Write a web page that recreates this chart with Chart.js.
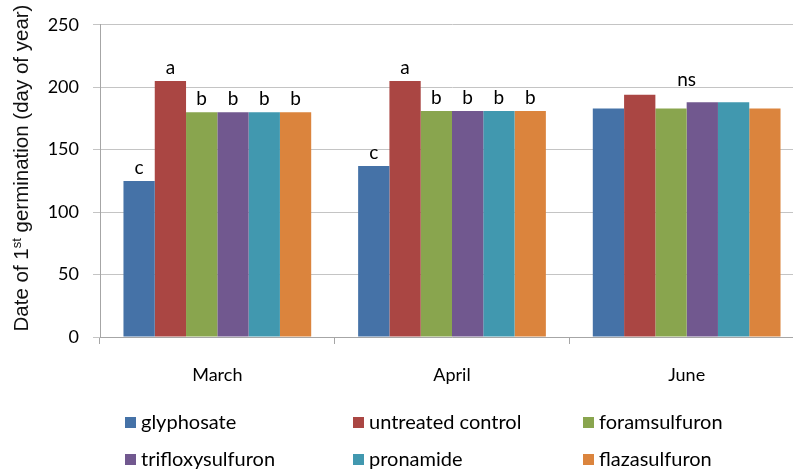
<!DOCTYPE html>
<html>
<head>
<meta charset="utf-8">
<script src="https://cdn.jsdelivr.net/npm/chart.js@4.4.1/dist/chart.umd.min.js"></script>
<style>
  html, body { margin: 0; padding: 0; background: #fff; overflow: hidden; }
  #wrap { width: 793px; height: 474px; overflow: hidden; position: relative; }
  #chart { display: block; }
</style>
</head>
<body>
<div id="wrap"><canvas id="chart" width="804" height="474"></canvas></div>
<script>
/* ====== DATA ====== */
const months = ['March', 'April', 'June'];
const treatments = ['glyphosate', 'untreated control', 'foramsulfuron', 'trifloxysulfuron', 'pronamide', 'flazasulfuron'];

const glyphosate = [125, 137, 183];
const untreated = [205, 205, 194];
const foramsulfuron = [180, 181, 183];
const trifloxysulfuron = [180, 181, 188];
const pronamide = [180, 181, 188];
const flazasulfuron = [180, 181, 183];

// significance letters per month, one per treatment (June is one group label)
const lettersMarch = ['c', 'a', 'b', 'b', 'b', 'b'];
const lettersApril = ['c', 'a', 'b', 'b', 'b', 'b'];
const groupLabelJune = 'ns';

const yTicks = [0, 50, 100, 150, 200, 250];

const colors = ['#4572A7', '#AA4643', '#89A54E', '#71588F', '#4198AF', '#DB843D'];

/* ====== PLUGINS ====== */
const tickFont = 'Lato, "Open Sans", sans-serif';

const letterPlugin = {
  id: 'letters',
  afterDatasetsDraw(chart) {
    const ctx = chart.ctx;
    ctx.save();
    ctx.fillStyle = '#000';
    ctx.font = '19px ' + tickFont;
    ctx.textAlign = 'center';
    ctx.textBaseline = 'bottom';
    const perMonth = [lettersMarch, lettersApril];
    chart.data.datasets.forEach((ds, i) => {
      const meta = chart.getDatasetMeta(i);
      perMonth.forEach((letters, m) => {
        const bar = meta.data[m];
        ctx.fillText(letters[i], bar.x, bar.y - 4);
      });
    });
    // June: single label over the group
    const first = chart.getDatasetMeta(0).data[2];
    const last = chart.getDatasetMeta(chart.data.datasets.length - 1).data[2];
    ctx.fillText(groupLabelJune, (first.x + last.x) / 2, chart.scales.y.getPixelForValue(200) + 2);
    ctx.restore();
  }
};

const yTitlePlugin = {
  id: 'ytitle',
  afterDraw(chart) {
    const ctx = chart.ctx;
    const parts = [
      { t: 'Date of 1', sup: false },
      { t: 'st', sup: true },
      { t: ' germination (day of year)', sup: false }
    ];
    const base = '20.5px "Liberation Sans", Arial, sans-serif';
    const small = '13px "Liberation Sans", Arial, sans-serif';
    ctx.save();
    let total = 0;
    parts.forEach(p => { ctx.font = p.sup ? small : base; total += ctx.measureText(p.t).width; });
    ctx.translate(28, 168);
    ctx.rotate(-Math.PI / 2);
    ctx.fillStyle = '#111';
    ctx.textBaseline = 'alphabetic';
    ctx.textAlign = 'left';
    let x = -total / 2;
    parts.forEach(p => {
      ctx.font = p.sup ? small : base;
      ctx.fillText(p.t, x, p.sup ? -7 : 0);
      x += ctx.measureText(p.t).width;
    });
    ctx.restore();
  }
};

const legendPlugin = {
  id: 'gridLegend',
  afterDraw(chart) {
    const ctx = chart.ctx;
    const colX = [125, 353, 583];
    const rowY = [423, 460];
    ctx.save();
    ctx.font = '20px ' + tickFont;
    ctx.textBaseline = 'middle';
    ctx.textAlign = 'left';
    chart.data.datasets.forEach((ds, i) => {
      const x = colX[i % 3];
      const y = rowY[Math.floor(i / 3)];
      ctx.fillStyle = ds.backgroundColor;
      ctx.fillRect(x, y - 6, 11, 11);
      ctx.fillStyle = '#000';
      ctx.fillText(ds.label, x + 16, y);
    });
    ctx.restore();
  }
};

/* ====== CHART ====== */
const series = [glyphosate, untreated, foramsulfuron, trifloxysulfuron, pronamide, flazasulfuron];

new Chart(document.getElementById('chart'), {
  type: 'bar',
  data: {
    labels: months,
    datasets: treatments.map((name, i) => ({
      label: name,
      data: series[i],
      backgroundColor: colors[i],
      borderWidth: 0,
      categoryPercentage: 0.8,
      barPercentage: 1.0
    }))
  },
  options: {
    responsive: false,
    animation: false,
    layout: { padding: { top: 22, right: 0, left: 0, bottom: 0 } },
    plugins: {
      legend: { display: false },
      tooltip: { enabled: false }
    },
    scales: {
      x: {
        afterFit: s => { s.height = 474 - 22 - 315; },
        grid: { offset: true, drawOnChartArea: false, color: '#a6a6a6', tickLength: 7 },
        border: { color: '#a6a6a6' },
        ticks: { color: '#000', font: { family: tickFont, size: 18 }, padding: 20 }
      },
      y: {
        min: 0,
        max: 250,
        afterFit: s => { s.width = 100; },
        afterBuildTicks: s => { s.ticks = yTicks.map(v => ({ value: v })); },
        grid: { color: '#c4c4c4', tickLength: 7 },
        border: { color: '#a6a6a6' },
        ticks: { color: '#000', font: { family: tickFont, size: 18 }, padding: 14 }
      }
    }
  },
  plugins: [letterPlugin, yTitlePlugin, legendPlugin]
});
</script>
</body>
</html>
